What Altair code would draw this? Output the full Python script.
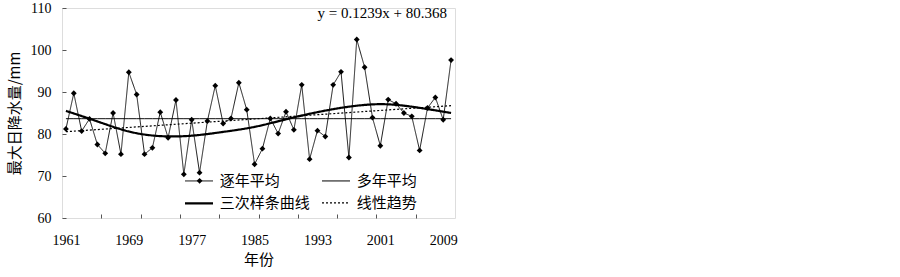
import altair as alt
import pandas as pd

years = list(range(1961, 2011))
values = [
    81.2, 89.7, 80.7, 83.6, 77.5, 75.4, 85.0, 75.2, 94.7, 89.4,
    75.2, 76.7, 85.2, 79.1, 88.1, 70.4, 83.4, 70.8, 83.1, 91.5,
    82.5, 83.7, 92.2, 85.8, 72.8, 76.5, 83.7, 80.1, 85.3, 81.0,
    91.7, 74.0, 80.8, 79.4, 91.7, 94.8, 74.4, 102.5, 95.9, 83.9,
    77.2, 88.2, 87.2, 85.0, 84.2, 76.1, 86.2, 88.7, 83.4, 97.6,
]
# cubic spline curve at knot years
spline_years = [1961, 1965, 1969, 1973, 1977, 1981, 1985, 1989, 1993, 1997, 2001, 2005, 2010]
spline_values = [85.5, 83.0, 80.6, 79.5, 79.6, 80.5, 81.7, 83.5, 85.2, 86.5, 87.1, 86.5, 85.0]

series_names = ["逐年平均", "多年平均", "三次样条曲线", "线性趋势"]
label_years = [1961, 1969, 1977, 1985, 1993, 2001, 2009]
tick_years = [1965.5, 1970.5, 1975.5, 1980.5, 1985.5, 1990.5, 1995.5, 2000.5, 2005.5]
y_ticks = [60, 70, 80, 90, 100, 110]
equation = "y = 0.1239x + 80.368"

df = pd.DataFrame({"year": years, "value": values})
df_spline = pd.DataFrame({"year": spline_years, "value": spline_values})

CJK = "Noto Sans CJK SC"
SERIF = "Liberation Serif"

x_axis = alt.Axis(
    values=label_years + tick_years,
    labelExpr="datum.value % 1 === 0 ? toString(datum.value) : ''",
    tickOpacity={"condition": {"test": "datum.value % 1 === 0", "value": 0}, "value": 1},
    tickSize=4, tickColor="#555", offset=-4, domain=False, grid=False,
    labelFont=SERIF, labelFontSize=14, labelColor="black", labelPadding=15,
    title="年份", titleFont=CJK, titleFontSize=15, titleFontWeight="normal",
    titleColor="black", titlePadding=5,
)
y_axis = alt.Axis(
    values=y_ticks, tickSize=4, tickColor="#555", offset=-4, domain=False, grid=False,
    labelFont=SERIF, labelFontSize=14, labelColor="black", labelPadding=11,
    title="最大日降水量/mm", titleFont=CJK, titleFontSize=15, titleFontWeight="normal",
    titleColor="black", titlePadding=8,
)

x_enc = alt.X("year:Q", scale=alt.Scale(domain=[1960.5, 2010.5], nice=False, zero=False), axis=x_axis)
y_enc = alt.Y("value:Q", scale=alt.Scale(domain=[60, 110], nice=False, zero=False), axis=y_axis)

legend = alt.Legend(
    orient="none", legendX=128.5, legendY=165.2, columns=2, direction="horizontal", title=None,
    symbolType="M-2,0H2", symbolSize=196, labelFont=CJK, labelFontSize=15,
    labelColor="black", labelOffset=12.2, columnPadding=9, rowPadding=5.6,
    symbolStrokeColor="black",
)
color_enc = alt.Color("series:N", scale=alt.Scale(domain=series_names, range=["black"] * 4), legend=legend)
dash_enc = alt.StrokeDash("series:N", scale=alt.Scale(domain=series_names, range=[[1, 0], [1, 0], [1, 0], [2, 2]]), legend=legend)
width_enc = alt.StrokeWidth("series:N", scale=alt.Scale(type="ordinal", domain=series_names, range=[0.9, 1, 2.2, 1.2]), legend=legend)

base = alt.Chart(df)

raw_line = base.transform_calculate(series="'逐年平均'").mark_line().encode(
    x=x_enc, y=y_enc, color=color_enc, strokeDash=dash_enc, strokeWidth=width_enc
)

points = base.transform_calculate(pt="'逐年平均'").mark_point(filled=True, color="black", size=34, opacity=1).encode(
    x=x_enc, y=y_enc,
    shape=alt.Shape("pt:N", scale=alt.Scale(domain=["逐年平均"], range=["diamond"]),
                    legend=alt.Legend(orient="none", legendX=134.6, legendY=169.8, title=None,
                                      labelExpr="''", labelFontSize=1, symbolSize=34,
                                      symbolFillColor="black", symbolStrokeColor="black",
                                      symbolStrokeWidth=0)),
)

mean_line = base.transform_joinaggregate(value="mean(value)").transform_calculate(
    series="'多年平均'"
).mark_line().encode(x=x_enc, y=y_enc, color=color_enc, strokeDash=dash_enc, strokeWidth=width_enc)

spline = alt.Chart(df_spline).transform_calculate(series="'三次样条曲线'").mark_line(
    interpolate="natural"
).encode(x=x_enc, y=y_enc, color=color_enc, strokeDash=dash_enc, strokeWidth=width_enc)

trend = base.transform_regression("year", "value", method="linear").transform_calculate(
    series="'线性趋势'"
).mark_line().encode(x=x_enc, y=y_enc, color=color_enc, strokeDash=dash_enc, strokeWidth=width_enc)

chart = alt.layer(raw_line, mean_line, spline, trend, points).properties(
    width=393, height=210,
    padding={"left": 62, "top": 8, "right": 445, "bottom": 59},
    autosize=alt.AutoSizeParams(type="none"),
    title=alt.TitleParams(equation, anchor="end", frame="group", font=SERIF, fontSize=15,
                          fontWeight="normal", color="black", dy=24, dx=-8),
).configure_view(stroke="#7a7a7a", strokeWidth=1).configure_axis(
    labelFont=SERIF
).configure(background="white")

chart.save("out.html", embed_options={"renderer": "svg", "actions": False})
